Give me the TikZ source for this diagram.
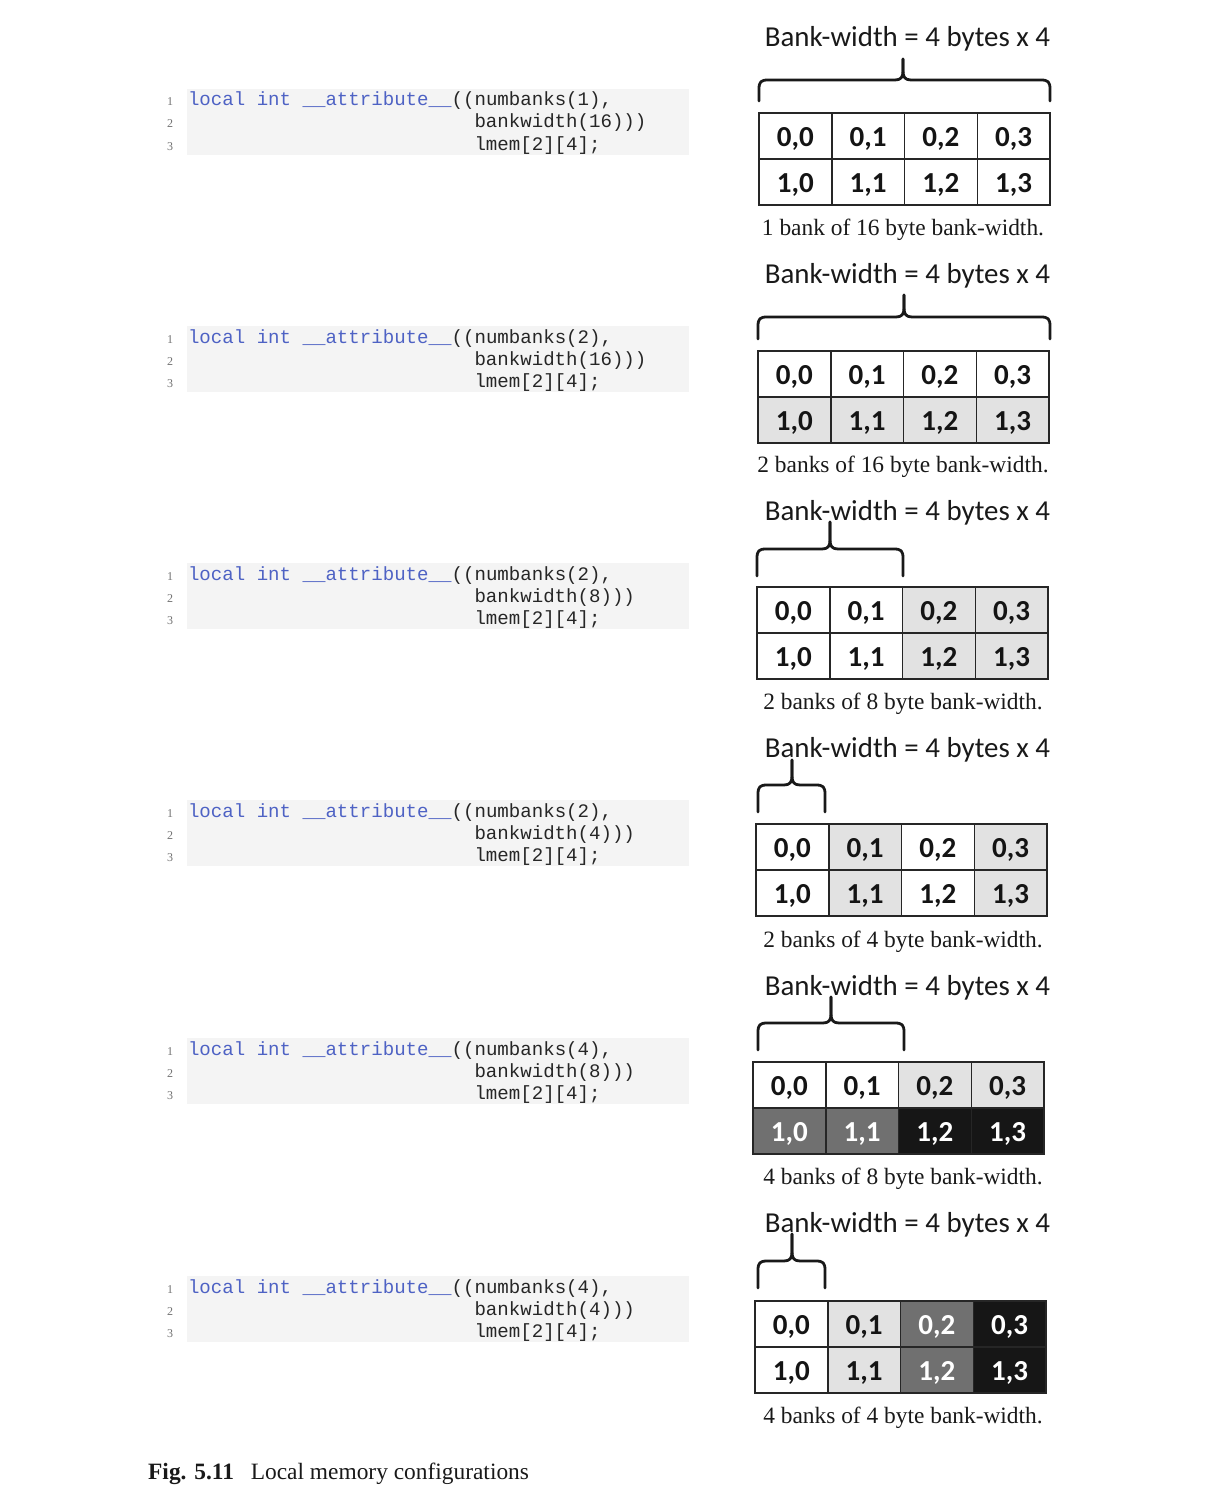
\documentclass[tikz,border=0pt]{standalone}
\usepackage{fontspec}
\setmainfont{Liberation Serif}
\newfontfamily\calfont{Carlito}
\newfontfamily\codefont{Liberation Mono}
\definecolor{codebg}{RGB}{244,244,244}
\definecolor{kw}{RGB}{78,98,196}
\definecolor{cW}{RGB}{255,255,255}
\definecolor{cL}{RGB}{226,226,226}
\definecolor{cD}{RGB}{112,112,112}
\definecolor{cB}{RGB}{22,22,22}
\definecolor{tK}{RGB}{20,20,20}
\definecolor{tW}{RGB}{255,255,255}
\tikzset{
  codeline/.style={anchor=base west, inner sep=0pt, outer sep=0pt, font=\codefont\fontsize{19.1}{22}\selectfont, text=black!85},
  lineno/.style={anchor=base, inner sep=0pt, font=\fontsize{12}{13}\selectfont, text=black!55},
  titletext/.style={inner sep=0pt, font=\calfont\fontsize{28.9}{31}\selectfont, text=black!90},
  captext/.style={inner sep=0pt, font=\fontsize{23.4}{26}\selectfont, text=black!90},
  cell/.style={draw=black!85, line width=1.5pt, minimum width=72.75pt, minimum height=46pt, inner sep=0pt, outer sep=0pt, anchor=north west, font=\calfont\bfseries\fontsize{29}{30}\selectfont},
  bracestyle/.style={line width=2.8pt, line cap=round, line join=round, draw=black!90},
}
\newcommand\memgrid[4]{%
  \foreach \f/\t [count=\i from 0] in {#4} {
    \pgfmathtruncatemacro\rr{int(\i/4)}
    \pgfmathtruncatemacro\cc{mod(\i,4)}
    \node[cell, fill=\f, text=\t] (g#1-\rr\cc) at ({#2+\cc*72.75},{#3+\rr*46}) {\raisebox{-10.5pt}[0pt][0pt]{\rr,\cc}};
  }}
\newcommand\membrace[6]{%
  \draw[bracestyle] (#1,#6) -- (#1,#5+9) .. controls (#1,#5+2) and (#1+2,#5) .. (#1+9,#5)
    -- (#3-8,#5) .. controls (#3-2,#5) and (#3,#5-3) .. (#3,#5-9) -- (#3,#4);
  \draw[bracestyle] (#2,#6) -- (#2,#5+9) .. controls (#2,#5+2) and (#2-2,#5) .. (#2-9,#5)
    -- (#3+8,#5) .. controls (#3+2,#5) and (#3,#5-3) .. (#3,#5-9) -- (#3,#4);
}
\newcommand\codeblock[4]{% id, offset, numbanks, bankwidth
  \fill[codebg] (187,89+#2) rectangle (689,155+#2);
  \node[lineno] (n#1a) at (170,106+#2) {1};
  \node[lineno] (n#1b) at (170,128+#2) {2};
  \node[lineno] (n#1c) at (170,150+#2) {3};
  \node[codeline] (c#1a) at (188,106+#2) {\textcolor{kw}{local int \_\_attribute\_\_}((numbanks(#3),};
  \node[codeline] (c#1b) at (474.5,128+#2) {bankwidth(#4)))};
  \node[codeline] (c#1c) at (474.5,150+#2) {lmem[2][4];};
}
\begin{document}
\begin{tikzpicture}[x=1pt,y=-1pt]
\useasboundingbox (0,0) rectangle (1217,1493);
\fill[white] (0,0) rectangle (1217,1493);

% code blocks
\codeblock{1}{0}{1}{16}
\codeblock{2}{237}{2}{16}
\codeblock{3}{474}{2}{8}
\codeblock{4}{711}{2}{4}
\codeblock{5}{949}{4}{8}
\codeblock{6}{1187}{4}{4}

% titles
\foreach \k/\y in {1/39,2/276,3/513,4/750,5/988,6/1225}
  \node[titletext] (t\k) at (907.5,\y) {Bank-width = 4 bytes x 4};

% braces
\membrace{759}{1050}{903}{59}{80}{101}
\membrace{758}{1050}{904}{295}{317}{339}
\membrace{757}{903}{830}{522}{549}{576}
\membrace{758}{825}{792}{760}{785}{812}
\membrace{758}{904}{831}{997}{1023}{1050}
\membrace{758}{825}{792}{1234}{1261}{1288}

% grids
\memgrid{1}{759}{113}{cW/tK,cW/tK,cW/tK,cW/tK,cW/tK,cW/tK,cW/tK,cW/tK}
\memgrid{2}{758}{351}{cW/tK,cW/tK,cW/tK,cW/tK,cL/tK,cL/tK,cL/tK,cL/tK}
\memgrid{3}{757}{587}{cW/tK,cW/tK,cL/tK,cL/tK,cW/tK,cW/tK,cL/tK,cL/tK}
\memgrid{4}{756}{824}{cW/tK,cL/tK,cW/tK,cL/tK,cW/tK,cL/tK,cW/tK,cL/tK}
\memgrid{5}{753}{1062}{cW/tK,cW/tK,cL/tK,cL/tK,cD/tW,cD/tW,cB/tW,cB/tW}
\memgrid{6}{755}{1301}{cW/tK,cL/tK,cD/tW,cB/tW,cW/tK,cL/tK,cD/tW,cB/tW}

% captions
\node[captext] (k1) at (903,230) {1 bank of 16 byte bank-width.};
\node[captext] (k2) at (903,467) {2 banks of 16 byte bank-width.};
\node[captext] (k3) at (903,704) {2 banks of 8 byte bank-width.};
\node[captext] (k4) at (903,942) {2 banks of 4 byte bank-width.};
\node[captext] (k5) at (903,1179) {4 banks of 8 byte bank-width.};
\node[captext] (k6) at (903,1418) {4 banks of 4 byte bank-width.};

% figure caption
\node[captext, anchor=base west] (fig) at (148,1479) {\textbf{Fig. 5.11}\hspace{0.72em}Local memory configurations};
\end{tikzpicture}
\end{document}
